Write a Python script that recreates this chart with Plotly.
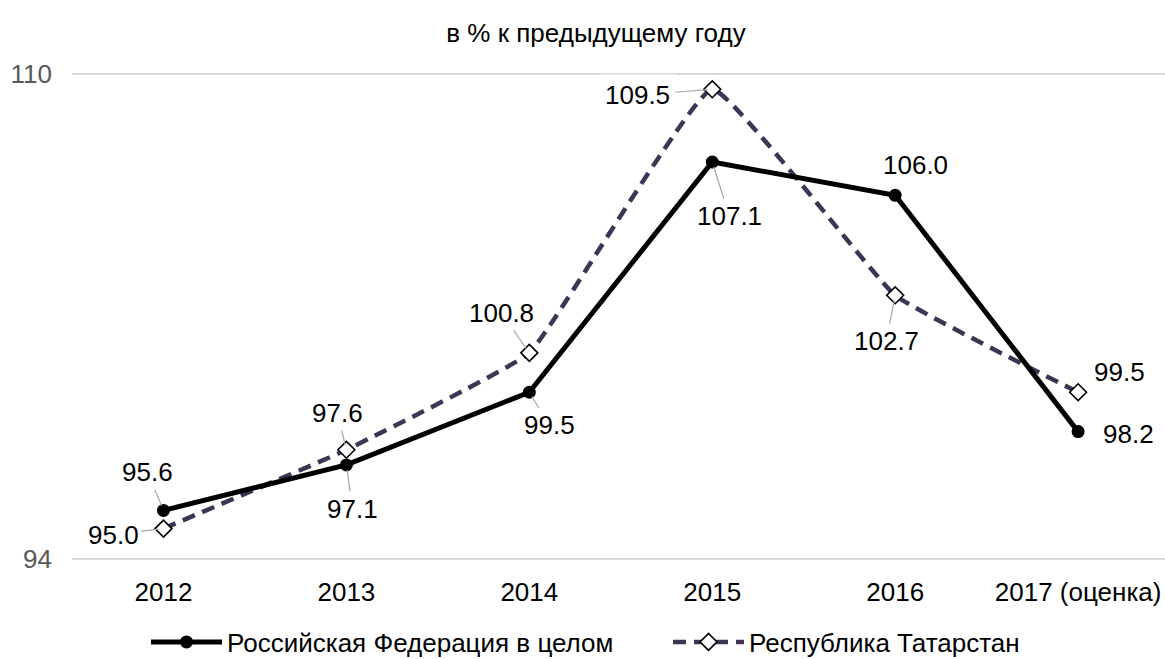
import plotly.graph_objects as go

years = ["2012", "2013", "2014", "2015", "2016", "2017 (оценка)"]
rf_values = [95.6, 97.1, 99.5, 107.1, 106.0, 98.2]
rt_values = [95.0, 97.6, 100.8, 109.5, 102.7, 99.5]
rf_name = "Российская Федерация в целом"
rt_name = "Республика Татарстан"
title_text = "в % к предыдущему году"

FONT = "Liberation Sans, Arial, sans-serif"

fig = go.Figure()
fig.add_trace(go.Scatter(
    x=years, y=rt_values, name=rt_name, mode="lines+markers",
    line=dict(color="#3f3454", width=4.5, dash="13px,8px", shape="spline", smoothing=0.3),
    marker=dict(symbol="diamond", size=13, color="white", line=dict(color="black", width=1.6)),
    cliponaxis=False,
))
fig.add_trace(go.Scatter(
    x=years, y=rf_values, name=rf_name, mode="lines+markers",
    line=dict(color="black", width=5),
    marker=dict(symbol="circle", size=13, color="black"),
    cliponaxis=False,
))

# label offsets (pixels) and whether a leader line is drawn
rf_off = [(-16, -38, True), (6, 44, True), (20, 33, True), (17, 54, True), (20, -30, False), (50, 2, False)]
rt_off = [(-50, 6, True), (-9, -37, True), (-28, -40, True), (-75, 6, True), (-9, 46, True), (41, -20, False)]

def add_labels(vals, offs, bg=False):
    for i, (v, (ax, ay, lead)) in enumerate(zip(vals, offs)):
        fig.add_annotation(
            x=i, y=v, xref="x", yref="y", text=f"{v:.1f}",
            showarrow=True, ax=ax, ay=ay, axref="pixel", ayref="pixel",
            arrowhead=0, arrowwidth=1.2,
            arrowcolor="#a6a6a6" if lead else "rgba(0,0,0,0)",
            standoff=5,
            font=dict(family=FONT, size=26, color="black"),
            bgcolor="white" if (bg and i == 3) else "rgba(0,0,0,0)",
            borderpad=5 if (bg and i == 3) else 2,
        )

add_labels(rf_values, rf_off)
add_labels(rt_values, rt_off, bg=True)

fig.update_layout(
    width=1165, height=659,
    margin=dict(l=72, r=0, t=59, b=85, autoexpand=False),
    paper_bgcolor="white", plot_bgcolor="white",
    font=dict(family=FONT, color="black"),
    title=dict(text=title_text, x=596 / 1165, xanchor="center", xref="container",
               y=1 - 33 / 659, yanchor="middle", yref="container",
               font=dict(family=FONT, size=26, color="black")),
    showlegend=True,
    legend=dict(orientation="h", xref="container", x=146 / 1165, xanchor="left",
                yref="container", y=1 - 642 / 659, yanchor="middle",
                font=dict(family=FONT, size=26, color="black"),
                itemwidth=71, entrywidth=436, traceorder="reversed"),
    xaxis=dict(type="category", range=[-0.5, 5.475], showgrid=False, zeroline=False,
               showline=False, ticks="", automargin=False, ticklabelstandoff=0,
               tickfont=dict(family=FONT, size=26, color="black")),
    yaxis=dict(range=[93.5, 110.5], tickvals=[94, 110], ticktext=["94", "110"],
               showgrid=True, gridcolor="#d9d9d9", gridwidth=2, zeroline=False,
               showline=False, ticks="", ticklabelstandoff=19, automargin=False,
               tickfont=dict(family=FONT, size=26, color="#595959")),
)

fig.write_html("out.html", config={"displayModeBar": False},
               post_script="document.body.style.margin='0';")
